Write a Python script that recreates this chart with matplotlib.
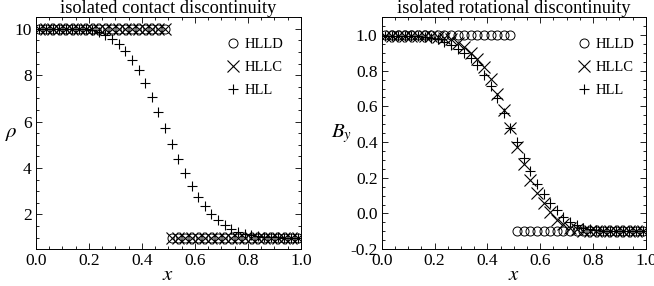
import numpy as np
import matplotlib
matplotlib.use("Agg")
import matplotlib.pyplot as plt
from matplotlib.ticker import MultipleLocator, FormatStrFormatter

plt.rcParams['font.family'] = ['Liberation Serif', 'DejaVu Serif']
plt.rcParams['mathtext.fontset'] = 'stix'
plt.rcParams['axes.unicode_minus'] = False

# cell centres, 40 cells on [0, 1]
x = (np.arange(40) + 0.5) / 40

# isolated contact discontinuity (density)
rho_hlld = [10.0] * 20 + [1.0] * 20
rho_hllc = [10.0] * 20 + [1.0] * 20
rho_hll = [10.0, 10.0, 10.0, 10.0, 10.0, 10.0, 10.0, 9.98, 9.93, 9.85,
           9.74, 9.57, 9.36, 9.03, 8.67, 8.21, 7.64, 7.04, 6.39, 5.71,
           5.03, 4.38, 3.78, 3.20, 2.75, 2.34, 2.03, 1.77, 1.56, 1.37,
           1.23, 1.14, 1.09, 1.05, 1.03, 1.02, 1.01, 1.0, 1.0, 1.0]

# isolated rotational discontinuity (By)
by_hlld = [1.0] * 20 + [-0.1] * 20
by_hllc = [0.995, 0.995, 0.995, 0.995, 0.995, 0.995, 0.995, 0.995, 0.99, 0.985,
           0.975, 0.955, 0.932, 0.90, 0.865, 0.822, 0.755, 0.67, 0.578, 0.478,
           0.37, 0.278, 0.19, 0.117, 0.056, 0.006, -0.037, -0.061, -0.079, -0.09,
           -0.096, -0.099, -0.1, -0.1, -0.1, -0.1, -0.1, -0.1, -0.1, -0.1]
by_hll = [0.995, 0.995, 0.995, 0.995, 0.995, 0.995, 0.99, 0.985, 0.975, 0.96,
          0.945, 0.924, 0.90, 0.87, 0.833, 0.778, 0.714, 0.645, 0.565, 0.48,
          0.40, 0.31, 0.235, 0.167, 0.111, 0.058, 0.018, -0.018, -0.046, -0.065,
          -0.079, -0.088, -0.093, -0.096, -0.098, -0.1, -0.1, -0.1, -0.1, -0.1]

fig = plt.figure(figsize=(6.54, 2.86), dpi=100)
ax1 = fig.add_axes([0.055, 0.129, 0.405, 0.811])
ax2 = fig.add_axes([0.5836, 0.129, 0.404, 0.811])


def draw(ax, d, c, l, ms, legx):
    ax.plot(x, d, 'o', mfc='none', mec='k', ms=ms, mew=0.7, ls='none', label='HLLD')
    ax.plot(x, c, 'x', color='k', ms=ms + 1.5, mew=0.8, ls='none', label='HLLC')
    ax.plot(x, l, '+', color='k', ms=ms + 1, mew=0.8, ls='none', label='HLL')
    ax.set_xlim(0, 1)
    ax.xaxis.set_major_locator(MultipleLocator(0.2))
    ax.xaxis.set_minor_locator(MultipleLocator(0.05))
    ax.xaxis.set_major_formatter(FormatStrFormatter('%.1f'))
    ax.tick_params(which='both', direction='in', top=True, right=True, labelsize=12.5, pad=3)
    ax.tick_params(which='major', length=4, width=0.6)
    ax.tick_params(which='minor', length=2, width=0.6)
    for s in ax.spines.values():
        s.set_linewidth(0.7)
    ax.set_xlabel('$x$', fontsize=15, labelpad=-2)
    ax.legend(loc='upper right', bbox_to_anchor=(legx, 0.935), frameon=False, fontsize=10.5,
              handlelength=1.0, handletextpad=0.3, labelspacing=0.66, borderaxespad=0)


draw(ax1, rho_hlld, rho_hllc, rho_hll, 6.5, 0.955)
ax1.set_ylim(0.5, 10.5)
ax1.yaxis.set_major_locator(MultipleLocator(2))
ax1.yaxis.set_minor_locator(MultipleLocator(0.5))
ax1.set_ylabel(r'$\rho$', fontsize=15, rotation=0, va='center', labelpad=2)
ax1.set_title('isolated contact discontinuity', fontsize=13.2, pad=1)

draw(ax2, by_hlld, by_hllc, by_hll, 6.5, 0.98)
ax2.set_ylim(-0.2, 1.1)
ax2.yaxis.set_major_locator(MultipleLocator(0.2))
ax2.yaxis.set_minor_locator(MultipleLocator(0.05))
ax2.yaxis.set_major_formatter(FormatStrFormatter('%.1f'))
ax2.set_ylabel('$B_y$', fontsize=15, rotation=0, va='center', labelpad=6)
ax2.set_title('isolated rotational discontinuity', fontsize=13.2, pad=1)

fig.savefig('out.png', dpi=100)
